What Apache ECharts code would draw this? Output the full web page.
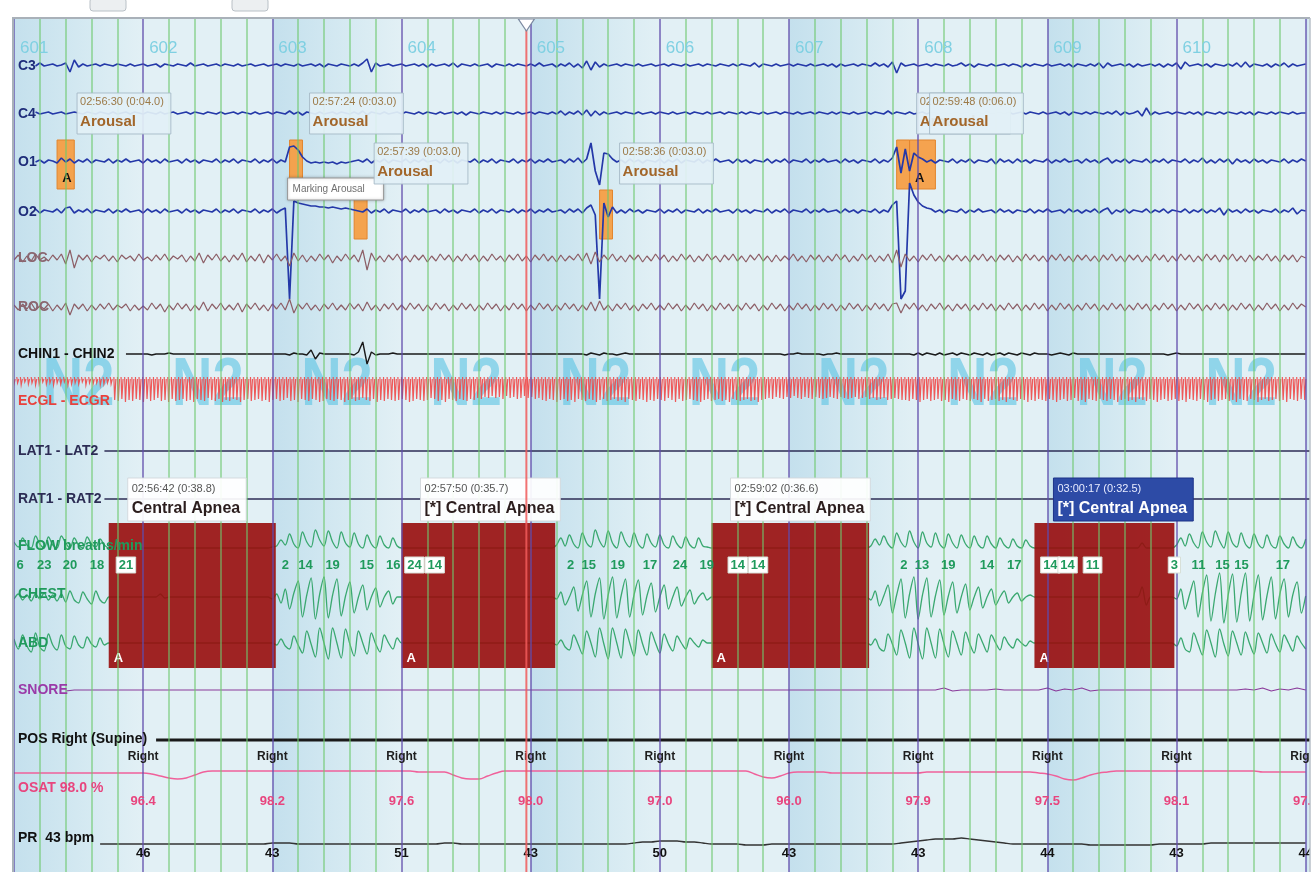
<!DOCTYPE html>
<html>
<head>
<meta charset="utf-8">
<title>PSG epochs 601-610</title>
<script src="https://cdn.jsdelivr.net/npm/echarts@6.0.0/dist/echarts.min.js"></script>
<style>
html,body{margin:0;padding:0;background:#ffffff;}
#chart{width:1316px;height:872px;}
</style>
</head>
<body>
<div id="chart"></div>
<script>
// ======================= DATA =======================
const recordStart = '02:56:20';
const cursorClock = '02:58:19';
const epochNumbers = ['601','602','603','604','605','606','607','608','609','610'];
const sleepStages = ['N2','N2','N2','N2','N2','N2','N2','N2','N2','N2'];
const channelLabels = ['C3','C4','O1','O2','LOC','ROC','CHIN1 - CHIN2','ECGL - ECGR','LAT1 - LAT2','RAT1 - RAT2',
  'FLOW breaths/min','CHEST','ABD','SNORE','POS Right (Supine)','OSAT 98.0 %','PR  43 bpm'];

const arousalStarts = ['02:56:30','02:57:24','02:57:39','02:58:36','02:59:45','02:59:48'];
const arousalDurations = [4.0, 3.0, 3.0, 3.0, 3.0, 6.0];
const arousalChannels = ['O1','O1','O2','O2','O1','O1'];
const markingArousal = 1;

const apneaStarts = ['02:56:42','02:57:50','02:59:02','03:00:17'];
const apneaDurations = [38.8, 35.7, 36.6, 32.5];
const apneaTypes = ['Central Apnea','[*] Central Apnea','[*] Central Apnea','[*] Central Apnea'];
const selectedApnea = 3;

const breathTimes = [1.4,7.0,13.0,19.3,26.0,63.0,67.7,74.0,81.9,88.1,93.0,97.7,129.3,133.5,140.2,147.7,154.7,160.9,
  168.1,172.8,206.7,210.9,217.0,226.0,232.3,240.7,244.7,250.5,269.5,275.1,280.7,285.1,294.7];
const breathRates = [6,23,20,18,21,2,14,19,15,16,24,14,2,15,19,17,24,19,14,14,2,13,19,14,17,14,14,11,3,11,15,15,17];

const positionLabels = ['Right','Right','Right','Right','Right','Right','Right','Right','Right','Right'];
const osatValues = [96.4,98.2,97.6,98.0,97.0,96.0,97.9,97.5,98.1,97.4];
const prValues = [46,43,51,43,50,43,43,44,43,44];

// traces, 1 sample per second (display amplitude)
const c3Wave = [0,-1,1,0,-1,1,-2,1,0,-1, 1,0,-2,7,-5,2,-1,1,0,-1, 1,-1,0,1,-1,0,1,-1,1,0, -1,1,0,-1,2,-1,0,1,-1,0,
 1,-2,1,0,-1,1,0,-1,1,-1, 0,1,-1,1,0,-1,1,0,-1,1, 0,-1,1,-1,0,1,-1,1,0,-1, 1,-1,2,-1,0,1,-1,0,1,-1,
 1,-2,-6,7,-2,1,0,-1,1,0, -1,1,0,-1,1,-1,2,-1,1,0, -1,1,-2,2,-1,0,1,-1,1,0, -1,2,-1,0,1,-1,1,-1,0,1,
 -1,1,-2,1,0,-1,2,-1,1,-2, 2,-1,3,-4,5,-3,2,-1,1,0, -1,1,-1,0,1,-1,1,0,-1,1, 0,-1,1,-1,0,1,-1,1,0,-1,
 1,-1,0,1,-1,0,1,-1,1,-1, 0,1,-2,2,-1,0,1,-1,1,0, -1,1,-1,0,1,-1,1,0,-1,1, -1,2,-1,1,0,-1,1,-1,0,1,
 -2,1,-1,2,-3,8,-2,1,0,-1, 1,0,-1,1,-1,0,1,-1,1,0, -2,1,-1,2,-1,0,1,-1,1,0, -1,1,-1,0,2,-1,1,-1,0,1,
 -1,1,0,-1,1,-1,2,-1,0,1, -1,1,-2,3,-2,1,0,-1,1,-1, 2,-1,1,0,-1,1,-1,2,-1,1, -2,4,-3,1,0,-1,1,-1,2,-1,
 0,1,-1,1,-2,2,-3,2,-1,0, 1,-1,2,-1,1,-2,2,-1,1,0, -1];
const c4Wave = [0,0,-1,1,0,-1,1,0,-1,1, 0,-1,1,0,-1,0,1,-1,0,1, -1,0,1,-1,1,0,-1,1,-1,0, 1,-1,0,1,-1,1,0,-1,1,0,
 -1,1,-1,0,1,-1,0,1,-1,1, 0,-1,1,-1,0,1,-1,1,0,-1, 1,-1,0,1,-2,1,-1,2,-1,0, 1,-1,1,0,-1,1,-1,0,1,-1,
 1,-2,2,-1,0,1,-1,1,0,-1, 1,-1,0,1,-1,1,-1,0,1,-1, 1,0,-1,1,-1,2,-1,0,1,-1, 0,1,-1,1,-1,0,1,-1,1,0,
 -1,1,-1,0,1,-1,1,-2,2,-1, 1,-2,2,-3,3,-2,2,-1,1,0, -1,1,-1,0,1,-1,1,0,-1,1, -1,0,1,-1,1,0,-1,1,-1,0,
 1,-1,1,0,-1,1,-1,0,1,-1, 1,-1,0,1,-1,1,0,-1,1,-1, 0,1,-1,1,0,-1,1,-1,0,1, -1,1,-1,0,1,-1,1,0,-1,1,
 -1,0,1,-2,1,-1,0,1,-1,1, 0,-1,1,-1,0,1,-1,1,0,-1, 1,-1,0,1,-1,1,-2,1,0,-1, 1,-1,1,0,-1,1,-1,0,1,-1,
 1,0,-1,1,-1,2,-1,0,1,-1, 1,-1,0,1,-1,1,-2,2,-1,1, 0,-2,3,-5,2,-1,1,0,-1,1, -1,0,1,-1,1,-1,2,-1,0,1,
 -1,1,-1,0,1,-1,1,-1,2,-1, 0,1,-1,1,-1,0,1,-1,1,0, 0];
const o1Wave = [1,-1,0,2,-2,1,-1,2,-1,0, 2,-3,1,-2,2,-1,1,-2,2,-1, 0,1,-2,2,-1,1,-2,1,0,-1, 2,-2,1,-1,2,-2,1,0,-1,2,
 -2,1,-1,2,-1,0,1,-2,2,-1, 1,-2,2,-1,0,1,-2,2,-1,1, -2,2,-1,1,-14,-15,-11,-4,0,2, 1,2,1,2,1,3,1,2,1,0,
 -1,1,-2,2,-1,1,-2,2,-1,0, 1,-2,2,-1,1,-2,1,0,-1,2, -2,1,-1,2,-1,0,1,-2,2,-1, 1,-2,2,-1,0,1,-2,2,-1,1,
 -2,2,-1,1,-2,1,0,-1,2,-2, 1,-3,2,-2,-18,10,24,-8,-7,-2, 1,-1,2,-2,1,-1,2,-1,0,1, -2,2,-1,1,-2,2,-1,0,1,-2,
 2,-1,1,-2,1,0,-1,2,-2,1, -1,2,-1,0,1,-2,2,-1,1,-2, 2,-1,0,1,-2,2,-1,1,-2,1, 0,-1,2,-2,1,-1,2,-1,0,1,
 -2,2,-1,1,-3,-14,12,-12,10,-8, -4,-2,1,-1,2,-1,0,1,-2,2, -1,1,-2,2,-1,0,1,-2,3,-2, 1,-1,2,-2,1,-1,2,-1,0,1,
 -2,2,-1,1,-2,1,0,-1,2,-2, 1,-1,2,-1,-3,2,-1,1,-2,2, -1,0,1,-2,2,-1,1,-2,2,-1, 0,1,-2,2,-1,1,-3,2,-1,2,
 -2,1,-2,3,-2,1,-1,2,-2,1, -1,2,-1,0,1,-2,2,-1,1,-2, 0];
const o2Wave = [1,-2,2,-1,1,-2,2,-1,0,1, -2,2,-3,-4,2,-1,1,-2,2,-1, 0,1,-2,2,-1,1,-2,1,0,-1, 2,-2,1,-1,2,-2,1,0,-1,2,
 -2,1,-1,2,-1,0,1,-2,2,-1, 1,-2,2,-1,0,1,-2,2,-1,1, -2,2,-1,-3,88,-10,-8,-7,-6,-5, -5,-4,-4,-3,-4,-3,-2,-3,-2,-1,
 0,1,-2,2,-1,1,-2,2,-1,0, 1,-2,2,-1,1,-2,1,0,-1,2, -2,1,-1,2,-1,0,1,-2,2,-1, 1,-2,2,-1,0,1,-2,2,-1,1,
 -2,2,-1,1,-2,1,0,-1,2,-2, 1,-2,2,-3,-6,4,88,-8,6,-4, 2,-1,2,-2,1,-1,2,-1,0,1, -2,2,-1,1,-2,2,-1,0,1,-2,
 2,-1,1,-2,1,0,-1,2,-2,1, -1,2,-1,0,1,-2,2,-1,1,-2, 2,-1,0,1,-2,2,-1,1,-2,1, 0,-1,2,-2,1,-1,2,-1,0,1,
 -2,2,-1,1,-6,-10,88,80,-28,-16, -9,-5,-3,-2,1,-1,2,-1,0,1, -2,2,-1,1,-2,1,0,-1,2,-2, 1,-1,2,-1,0,1,-2,2,-1,1,
 -2,1,0,-1,2,-2,1,-1,2,-1, 1,-2,2,-1,-3,3,-1,1,-2,2, -1,0,1,-2,2,-1,1,-2,2,-1, 0,1,-2,2,-1,1,-2,2,-1,1,
 -3,4,-2,1,-1,2,-2,1,-1,2, -1,0,1,-2,2,-1,1,-3,3,-1, 0];
const locWave = [2,-3,4,-2,3,-4,2,-1,3,-3, 2,-4,6,-8,10,-3,2,-3,4,-2, 1,-3,3,-2,4,-3,1,-2,3,-4, 2,-1,3,-3,2,-4,3,-2,1,-3,
 4,-2,3,-5,5,-3,2,-4,3,-2, 4,-3,2,-5,4,-2,3,-4,5,-3, 2,-4,3,-2,8,-5,3,-3,4,-2, 3,-4,2,-3,5,-2,3,-4,2,-3,
 4,-8,12,-5,3,-2,4,-3,2,-4, 3,-2,4,-3,2,-3,4,-2,3,-4, 2,-3,4,-2,3,-4,2,-3,4,-2, 3,-4,2,-2,4,-3,2,-4,3,-2,
 4,-3,2,-4,3,-2,4,-3,3,-2, 2,-4,3,-5,6,-6,4,-3,2,-4, 3,-2,4,-3,2,-3,4,-2,3,-4, 2,-3,4,-2,3,-4,2,-3,4,-2,
 3,-4,2,-2,4,-3,2,-4,3,-2, 4,-3,2,-4,3,-2,4,-3,3,-2, 2,-4,3,-2,4,-3,2,-3,4,-2, 3,-4,2,-3,4,-2,3,-4,2,-3,
 4,-2,3,-4,5,-8,9,-4,3,-2, 4,-3,2,-4,3,-2,4,-3,2,-3, 3,-2,4,-3,2,-4,3,-2,4,-3, 2,-3,4,-2,3,-4,2,-3,3,-2,
 4,-3,2,-4,3,-2,4,-3,2,-3, 3,-2,4,-3,2,-4,3,-2,4,-3, 2,-3,4,-2,3,-4,2,-3,4,-2, 3,-4,2,-3,4,-2,3,-4,2,-3,
 4,-3,2,-4,3,-2,4,-3,3,-2, 2,-4,3,-2,4,-3,2,-3,4,-2, 0];
const rocWave = [-2,3,-3,2,-4,3,-1,2,-3,4, -2,3,-4,8,-3,2,-3,4,-2,3, -3,2,-4,3,-2,1,-3,4,-2,3, -1,3,-4,2,-3,5,-2,3,-4,2,
 -3,4,-2,3,-5,4,-3,2,-4,3, -2,3,-4,5,-3,2,-4,3,-2,4, -3,2,-4,3,-8,6,-3,2,-4,3, -2,4,-3,2,-4,3,-2,3,-4,2,
 -3,4,-5,3,-2,4,-3,2,-4,3, -2,3,-4,2,-3,4,-2,3,-4,2, -3,4,-2,3,-4,2,-3,4,-2,3, -4,2,-3,4,-2,3,-4,2,-3,4,
 -2,3,-4,2,-3,4,-2,3,-4,2, -3,4,-2,3,-5,4,-6,3,-2,4, -3,2,-4,3,-2,4,-3,2,-4,3, -2,3,-4,2,-3,4,-2,3,-4,2,
 -3,4,-2,3,-4,2,-3,4,-2,3, -4,2,-3,4,-2,3,-4,2,-3,4, -2,3,-4,2,-3,4,-2,3,-4,2, -3,4,-2,3,-4,2,-3,4,-2,3,
 -4,2,-3,4,-3,-4,6,-3,2,-4, 3,-2,4,-3,2,-4,3,-2,4,-3, 2,-3,4,-2,3,-4,2,-3,4,-2, 3,-4,2,-3,4,-2,3,-4,2,-3,
 4,-2,3,-4,2,-3,4,-2,3,-4, 2,-3,4,-2,3,-4,2,-3,4,-2, 3,-4,2,-3,4,-2,3,-4,2,-3, 4,-2,3,-4,2,-3,4,-2,3,-4,
 2,-3,4,-2,3,-4,2,-3,4,-2, 3,-4,2,-3,4,-2,3,-4,2,-3, 0];
const chinWave = [0,0,0,0,0,0,0,0,0,0, 0,0,0,0,0,0,0,0,0,0, 0,0,0,0,0,0,0,0,0,0, 0,0,1,0,0,0,-1,0,0,0,
 0,0,0,0,0,0,0,0,0,0, 0,0,0,0,0,0,0,0,0,0, 0,0,0,0,1,-1,0,0,1,-4, 5,-1,0,0,0,0,0,0,0,1,
 -2,-12,10,-2,1,0,0,0,-1,0, 0,0,0,0,0,0,0,0,0,0, 0,0,0,0,0,0,0,0,0,0, 0,0,0,0,0,0,0,0,0,0,
 0,0,0,0,0,0,0,0,0,0, 0,0,0,1,-1,0,1,-1,0,0, 1,0,-1,0,0,0,0,0,0,0, 0,0,0,0,0,0,0,0,0,0,
 0,0,0,0,0,0,0,0,0,0, 0,0,0,0,0,0,0,0,0,1, 0,0,-1,0,0,0,0,0,1,0, 0,-1,0,0,0,0,0,0,0,0,
 0,0,0,0,0,0,0,0,0,1, -1,1,-1,0,1,-1,1,0,-1,1, -1,0,1,-1,0,1,-1,1,0,-1, 1,-1,0,1,-1,0,1,-1,0,0,
 0,1,0,-1,0,1,-1,0,0,0, 0,0,0,0,0,0,0,0,0,0, 0,0,0,0,0,0,0,0,1,0, -1,0,0,0,0,0,0,0,0,0,
 0,0,0,0,0,0,0,0,0,0, 0,0,0,0,0,0,0,0,0,0, 0];
// ECG R-wave heights, one per beat
const ecgPeaks = [6,5,7,4,6,5,7,6,4,6,5,7,5,6,4,7,6,5,6,4,7,5,6,5,7,6,5,6,
 22,23,21,24,22,23,21,22,24,21,23,22,20,23,22,24,21,23,22,21,
 23,22,24,21,22,23,20,22,23,21,24,22,23,21,22,24,22,21,23,22,
 21,23,22,24,22,21,23,22,20,23,22,24,21,22,23,21,22,24,23,21,
 22,23,21,22,24,22,21,23,22,20,22,23,21,24,22,23,21,22,23,22,
 21,22,24,23,21,22,23,22,20,21,23,22,24,21,22,23,21,22,23,21,
 22,20,21,19,20,18,20,19,21,18,20,19,21,20,18,20,19,21,20,22,
 23,21,22,24,22,21,23,22,24,21,22,23,21,22,24,22,21,23,22,21,
 23,22,24,21,22,23,21,22,24,22,23,21,22,23,20,22,24,21,23,22,
 21,22,23,24,22,21,23,22,21,23,22,24,21,22,23,22,21,23,22,24,
 22,21,20,21,19,20,21,19,20,18,20,21,19,20,21,19,20,21,20,19,
 20,21,19,20,21,20,19,21,20,19,21,20,22,21,20,22,21,20,21,22,
 22,23,21,22,24,22,21,23,22,21,23,22,24,21,22,23,21,22,23,21,
 22,24,21,23,22,21,23,22,24,21,22,23,21,22,24,22,23,21,22,23,
 21,22,24,22,21,23,22,20,23,22,24,21,22,23,21,22,23,21,22,24,
 22,21,23,22,24,21,22,23,21,22,24,22,21,23,22,21,23,22,24,21,
 22,23,21,22,24,22,21,23,22,21,23,22,
 24,21,22,23,21,22,24,22,21,23,22,21,23,22,24,21,22,23,21,22];
const flowWave = [-6,-1,-10,-3,0,-12,-4,0,-11,-3, 0,-12,-5,0,-10,-3,0,-11,-4,-1, -9,-3,
 0,0,0,0,0,0,0,0,0,0, 0,0,0,0,0,0,0,0,0,0, 0,0,0,0,0,0,0,0,0,0, 0,0,0,0,0,0,0,0,-1,
 -2,-8,-3,-14,-4,0,-16,-6,-1,-18,-8,-2,-17,-6,0,-16,-5,-1,-15,-4,0,-13,-4,0,-12,-3,0,-10,-2,
 0,0,0,0,0,0,0,0,0,0, 0,0,0,0,0,0,0,0,0,0, 0,0,0,0,0,0,0,0,0,0, 0,0,0,0,0,0,
 -3,-10,-2,-13,-4,0,-15,-5,-1,-18,-7,-1,-17,-5,0,-16,-6,-1,-15,-4,0,-14,-5,-1,-13,-3,0,-12,-4,0,-11,-3,0,-10,-2,-1,
 0,0,0,0,0,0,0,0,0,0, 0,0,0,0,0,0,0,0,0,0, 0,0,0,0,0,0,0,0,0,0, 0,0,0,0,0,0,0,
 -2,-9,-3,-12,-4,0,-15,-6,-1,-17,-6,0,-16,-5,-1,-15,-4,0,-14,-5,0,-13,-4,0,-12,-3,0,-12,-4,0,-10,-3,0,-9,-2,0,-8,-2,
 0,0,0,0,0,0,0,0,0,0, 0,0,0,0,0,0,0,0,0,0, 0,0,0,0,0,-5,0,0,0,0, 0,0,0,
 -3,-10,-2,-14,-5,0,-16,-6,-1,-17,-7,0,-16,-5,-1,-15,-4,0,-14,-4,0,-13,-3,0,-12,-4,0,-11,-3,0,-9];
const chestWave = [2,-3,3,-2,4,-3,2,-4,3,-2, 4,-3,5,-6,3,6,-5,2,7,-6, 3,6,
 0,0,0,0,0,0,0,0,0,0, 0,0,-3,1,0,0,0,0,0,0, 0,0,0,0,0,0,0,0,0,0, 0,0,0,0,0,0,0,0,2,
 -3,6,-8,12,-4,-16,20,-2,-19,22,-3,-20,21,-2,-18,19,-1,-15,16,0,-12,13,0,-9,10,0,-6,7,0,
 0,0,0,0,0,0,0,0,0,0, 0,0,0,0,0,0,0,0,0,0, 0,0,0,0,0,0,0,0,0,0, 0,0,0,0,0,0,
 2,-5,8,0,-10,14,-2,-16,20,-3,-19,22,-2,-20,21,-1,-18,20,-2,-17,18,-1,-14,15,0,-12,12,0,-10,9,0,-7,7,0,-4,3,
 0,0,0,0,0,0,0,0,0,0, 0,0,0,0,0,0,0,0,0,0, 0,0,0,0,0,0,0,0,0,0, 0,0,0,0,0,0,0,
 3,-6,9,-1,-12,16,-2,-18,21,-3,-20,22,-2,-19,20,-1,-17,18,-1,-15,16,0,-13,13,0,-10,11,0,-8,8,0,-6,6,0,-4,4,0,-2,
 0,0,0,0,0,0,0,0,0,0, 0,0,0,0,0,0,0,0,0,0, 0,0,0,0,0,-10,8,0,0,0, 0,0,0,
 2,-8,12,-2,-16,20,-4,-22,24,-3,-24,26,-2,-23,25,-3,-24,24,-2,-22,23,-1,-20,22,-3,-18,20,-2,-15,16,-1];
const abdWave = [-4,6,-8,3,9,-10,4,8,-9,2, 7,-8,3,6,-7,2,5,-6,1,4, -5,2,
 0,0,0,0,0,0,0,0,0,0, 0,0,0,0,0,0,0,0,0,0, 0,0,0,0,0,0,0,0,0,0, 0,0,0,0,0,0,0,0,0,
 2,-4,3,6,-7,2,10,-12,1,14,-15,0,16,-15,0,15,-14,1,13,-12,0,11,-10,1,9,-8,0,6,-5,
 0,0,0,0,0,0,0,0,0,0, 0,0,0,0,0,0,0,0,0,0, 0,0,0,0,0,0,0,0,0,0, 0,0,0,0,0,0,
 2,-3,4,7,-8,1,11,-12,0,14,-15,1,16,-15,0,15,-14,0,13,-13,1,12,-11,0,10,-9,1,8,-7,0,6,-5,0,4,-3,0,
 0,0,0,0,0,0,0,0,0,0, 0,0,0,0,0,0,0,0,0,0, 0,0,0,0,0,0,0,0,0,0, 0,0,0,0,0,0,0,
 2,-4,5,8,-9,1,12,-13,0,15,-15,1,16,-15,0,15,-14,1,14,-12,0,12,-11,1,10,-9,0,9,-8,0,7,-6,1,5,-4,0,3,-2,
 0,0,0,0,0,0,0,0,0,0, 0,0,0,0,0,0,0,0,0,0, 0,0,0,0,0,0,0,0,0,0, 0,0,0,
 3,-5,6,9,-10,1,12,-13,0,14,-14,1,13,-12,0,12,-11,1,11,-10,0,10,-9,1,9,-8,0,8,-7,0,6];
// slow channels, 1 sample every 2 s
const snoreWave = [0,0,0,0,0,0,1,0,0,0, 0,0,0,0,0,0,0,0,0,0, 0,0,0,0,0,0,0,0,0,0, 0,0,0,0,0,0,0,0,0,0,
 0,0,0,0,0,0,0,0,0,0, 0,0,0,0,0,0,0,0,0,0, 0,0,0,0,0,0,0,0,0,0, 0,0,0,0,0,0,0,0,0,0,
 0,0,0,0,0,0,0,0,0,0, 0,0,0,0,0,0,0,0,0,0, 0,0,0,0,0,0,0,0,-2,1, 0,0,0,0,-1,0,0,0,0,0,
 -2,1,-1,0,-2,1,0,0,0,0, 0,0,0,0,0,0,0,0,0,0, 0,0,0,-1,0,-2,1,-1,0,-2, 0];
const osatWave = [1,1,1,1,1,1,1,1,1,1, 1,1,1,1,1,1,2, 4,6,7,6,3,
 0,-1,-1,-1,-1,-1,-1,-1,-1,-1,-1,-1,-1,-1,-1,-1,-1,-1,-1,-1,-1,-1,-1,-1,-1,0,0,0,0,
 3,6,7,7,4,1,
 -1,-1,-1,-1,-1,-1,-1,-1,-1,-1,-1,-1,-1,-1,-1,-1,-1,-1,-1,-1,-1,-1,-1,-1,-1,-1,-1,-1,-1,
 2,5,6,4,1,
 0,0,0,0,1,1,1,1,1,1,1,1,1,1,1,0,0,0,0,0,0,0,0,0,0,0,0,0,1,2,
 4,7,8,6,3,1,
 0,-1,-1,-1,-1,-1,-1,-1,-1,-1,-1,-1,-1,-1,-1,-1,-1,-1,0,0,0,0,0,0];
const prWave = [0,0,0,0,0,0,0,0,0,0,
 0,0,0,0,0,0,0,0,0,0, 0,0,0,0,0,0,0,0,0,0, -1,-1,-1,0,0,0,0,0,0,0, 0,0,0,0,0,0,0,0,0,0, -1,-1,0,0,0,0,0,0,0,0, 0,0,0,0,0,
 0,0,0,0,0,0,0,-1,-2,-2,-3,-3,-3,-2,-2,
 -1,0,0,0,0,1,1,1,0,0,0,0,0,0,0,0,0,0,0,0,
 0,0,0,-1,-2,-3,-4,-5,-5,-5,-6,-5,-4,-3,-2,-1,0,0,0,0,
 0,0,0,0,0,1,1,1,1,1,1,1,1,0,0,0,0,0,0,-1,-1,-1,-1,-1,-1,-1,-1,-1,-1,-1,-1];

// ======================= LAYOUT / STYLE =======================
const X_MAX = 301, EPOCH = 30, SUB = 6, ECG_STEP = 0.835;
const ROW = {C3:65, C4:113, O1:161, O2:211, LOC:258, ROC:307, CHIN:354, ECG:378, LAT:451, RAT:499,
  FLOW:548, CHEST:597, ABD:643, SNORE:690, POS:740, OSAT:772, PR:844};
const LABEL_Y = [66,114,162,212,258,307,354,401,451,499,546,594,643,690,739,788,838];
const LABEL_COLOR = ['#1f2d7a','#1f2d7a','#1f2d7a','#1f2d7a','#8a6670','#8a6670','#111111','#e8413c','#2c2c54','#2c2c54',
  '#1f9a5c','#1f9a5c','#1f9a5c','#9a3aa8','#111111','#e8457e','#111111'];
const FONT = '"Liberation Sans", Arial, sans-serif';

const toSec = c => { const p = c.split(':').map(Number); return p[0]*3600 + p[1]*60 + p[2]; };
const T0 = toSec(recordStart);
const rel = c => toSec(c) - T0;
const arousalSec = arousalStarts.map(rel);
const apneaSec = apneaStarts.map(rel);
const cursorSec = rel(cursorClock);
const durText = d => '(0:' + d.toFixed(1).padStart(4, '0') + ')';
const inApnea = t => apneaSec.some((s, i) => t >= s && t <= s + apneaDurations[i]);

const mctx = document.createElement('canvas').getContext('2d');
const textW = (t, f) => { mctx.font = f; return mctx.measureText(t).width; };

function txt(x, y, text, fill, font, align, valign, extra) {
  return Object.assign({type: 'text', x: x, y: y, style: {text: text, fill: fill, font: font,
    align: align || 'left', verticalAlign: valign || 'middle', textAlign: align || 'left', textVerticalAlign: valign || 'middle'}}, extra || {});
}

function trace(wave, dt, base, start, color, width, smooth) {
  const data = [];
  wave.forEach((v, i) => { const t = i * dt; if (t >= start && t <= X_MAX) data.push([t, base + v]); });
  return {type: 'line', data: data, symbol: 'none', showSymbol: false, silent: true, z: 2,
    smooth: smooth || false, lineStyle: {color: color, width: width}, animation: false};
}
function flat(base, start, color, width) {
  return {type: 'line', data: [[start, base], [X_MAX, base]], symbol: 'none', silent: true, z: 2,
    lineStyle: {color: color, width: width}, animation: false};
}

const series = [];

// sleep stage watermark
series.push({type: 'custom', z: 1, silent: true, clip: true,
  data: sleepStages.map((s, i) => [i * EPOCH + EPOCH / 2]),
  renderItem: (params, api) => {
    const p = api.coord([api.value(0), 386]);
    return txt(p[0], p[1], sleepStages[params.dataIndex], 'rgba(90,195,226,0.6)', 'bold 56px ' + FONT, 'center', 'middle', {scaleY: 1.22});
  }});

// epoch numbers
series.push({type: 'custom', z: 3, silent: true, clip: true,
  data: epochNumbers.map((s, i) => [i * EPOCH]),
  renderItem: (params, api) => {
    const p = api.coord([api.value(0), 48]);
    return txt(p[0] + 6, p[1], epochNumbers[params.dataIndex], '#7fd0e2', '17px ' + FONT);
  }});

// arousal boxes (under traces)
series.push({type: 'custom', z: 1.5, silent: true,
  data: arousalSec.map((s, i) => [s, s + arousalDurations[i]]),
  renderItem: (params, api) => {
    const i = params.dataIndex, b = ROW[arousalChannels[i]];
    const p0 = api.coord([api.value(0), b - 21]), p1 = api.coord([api.value(1), b + 28]);
    const ch = [{type: 'rect', shape: {x: p0[0], y: p0[1], width: p1[0] - p0[0], height: p1[1] - p0[1]},
      style: {fill: 'rgba(246,156,64,0.92)', stroke: '#e2852e', lineWidth: 1}}];
    if (p1[0] - p0[0] > 15) ch.push(txt(p0[0] + 10, b + 17, 'A', '#111', 'bold 13px ' + FONT, 'center'));
    return {type: 'group', children: ch};
  }});

// traces
series.push(trace(c3Wave, 1, ROW.C3, 5, '#2438a8', 1.6));
series.push(trace(c4Wave, 1, ROW.C4, 5, '#2438a8', 1.6));
series.push(trace(o1Wave, 1, ROW.O1, 5, '#2438a8', 1.7));
series.push(trace(o2Wave, 1, ROW.O2, 5, '#2438a8', 1.7));
series.push(trace(locWave, 1, ROW.LOC, 0, '#8c5e66', 1.2));
series.push(trace(rocWave, 1, ROW.ROC, 0, '#8c5e66', 1.2));
series.push(trace(chinWave, 1, ROW.CHIN, 26, '#1a1a1a', 1.4));
series.push(flat(ROW.LAT, 21, '#2c2c54', 1.5));
series.push(flat(ROW.RAT, 21, '#2c2c54', 1.5));
series.push(trace(flowWave, 1, ROW.FLOW, 0, '#3aa870', 1.3, 0.35));
series.push(trace(chestWave, 1, ROW.CHEST, 0, '#3aa870', 1.3, 0.3));
series.push(trace(abdWave, 1, ROW.ABD, 0, '#3aa870', 1.3, 0.35));
series.push(trace(snoreWave, 2, ROW.SNORE, 12, '#8a3a9a', 1.2));
series.push(flat(ROW.POS, 33, '#1a1a1a', 2.8));
series.push(trace(osatWave, 2, ROW.OSAT, 0, '#f0609a', 1.4, 0.4));
series.push(trace(prWave, 2, ROW.PR, 20, '#333333', 1.4, 0.3));

// ECG beats
series.push({type: 'custom', z: 2, silent: true, clip: true,
  data: ecgPeaks.map((h, i) => [i * ECG_STEP, h]),
  renderItem: (params, api) => {
    const p0 = api.coord([api.value(0), ROW.ECG - 1]);
    const p1 = api.coord([api.value(0), ROW.ECG + api.value(1)]);
    return {type: 'polyline', shape: {points: [[p0[0] - 0.8, p0[1]], [p1[0], p1[1]], [p0[0] + 1.2, p0[1] + 2]]},
      style: {stroke: '#f04848', lineWidth: 1.2, fill: 'none', opacity: 0.9}};
  }});

// apnea boxes
series.push({type: 'custom', z: 2.5, silent: true,
  data: apneaSec.map((s, i) => [s, s + apneaDurations[i]]),
  renderItem: (params, api) => {
    const p0 = api.coord([api.value(0), ROW.FLOW - 25]), p1 = api.coord([api.value(1), ROW.ABD + 25]);
    return {type: 'group', children: [
      {type: 'rect', shape: {x: p0[0], y: p0[1], width: p1[0] - p0[0], height: p1[1] - p0[1]},
        style: {fill: 'rgba(152,12,12,0.9)'}},
      txt(p0[0] + 5, p1[1] - 10, 'A', '#ffffff', 'bold 13px ' + FONT)
    ]};
  }});

// arousal labels
series.push({type: 'custom', z: 3, silent: true,
  data: arousalSec.map((s) => [s]),
  renderItem: (params, api) => {
    const i = params.dataIndex, b = ROW[arousalChannels[i]];
    const p = api.coord([api.value(0), b - 68]);
    const t1 = arousalStarts[i] + ' ' + durText(arousalDurations[i]);
    const w = Math.max(textW(t1, '11px ' + FONT), 52) + 10;
    const ch = [
      {type: 'rect', shape: {x: p[0] + 20, y: p[1], width: w, height: 41},
        style: {fill: 'rgba(226,240,246,0.93)', stroke: 'rgba(165,185,198,0.9)', lineWidth: 1}},
      txt(p[0] + 23, p[1] + 9, t1, '#9c7a48', '11px ' + FONT),
      txt(p[0] + 23, p[1] + 29, 'Arousal', '#a2662a', 'bold 15px ' + FONT)
    ];
    if (i === markingArousal) {
      const q = api.coord([api.value(0), b + 17]);
      ch.push({type: 'rect', shape: {x: q[0] - 2, y: q[1], width: 96, height: 22},
        style: {fill: '#ffffff', stroke: '#9a9a9a', lineWidth: 1, shadowBlur: 3, shadowColor: 'rgba(0,0,0,0.25)'}});
      ch.push(txt(q[0] + 3, q[1] + 11, 'Marking Arousal', '#707070', '10px ' + FONT));
    }
    return {type: 'group', children: ch};
  }});

// apnea labels
series.push({type: 'custom', z: 3, silent: true,
  data: apneaSec.map((s) => [s]),
  renderItem: (params, api) => {
    const i = params.dataIndex;
    const p = api.coord([api.value(0), ROW.RAT - 21]);
    const sel = i === selectedApnea;
    const t1 = apneaStarts[i] + ' ' + durText(apneaDurations[i]);
    const w = Math.max(textW(t1, '11px ' + FONT), textW(apneaTypes[i], 'bold 16px ' + FONT)) + 10;
    return {type: 'group', children: [
      {type: 'rect', shape: {x: p[0] + 19, y: p[1], width: w, height: 43},
        style: {fill: sel ? '#2d4ba6' : 'rgba(255,255,255,0.93)', stroke: sel ? '#1c3288' : 'rgba(210,215,220,0.9)', lineWidth: 1}},
      txt(p[0] + 23, p[1] + 11, t1, sel ? '#e8ecff' : '#555555', '11px ' + FONT),
      txt(p[0] + 23, p[1] + 31, apneaTypes[i], sel ? '#ffffff' : '#2b1d1d', 'bold 16px ' + FONT)
    ]};
  }});

// breath rates
series.push({type: 'custom', z: 3, silent: true, clip: true,
  data: breathTimes.map((t, i) => [t, breathRates[i]]),
  renderItem: (params, api) => {
    const t = api.value(0), s = String(api.value(1));
    const p = api.coord([t, ROW.FLOW + 17]);
    const f = 'bold 13px ' + FONT;
    const ch = [];
    if (inApnea(t)) {
      const w = textW(s, f) + 5;
      ch.push({type: 'rect', shape: {x: p[0] - w / 2, y: p[1] - 8, width: w, height: 16},
        style: {fill: '#ffffff', stroke: '#d8e0d8', lineWidth: 1}});
    }
    ch.push(txt(p[0], p[1], s, '#1f9a5c', f, 'center'));
    return {type: 'group', children: ch};
  }});

// bottom per-epoch values (clipped at the right border)
series.push({type: 'custom', z: 3, silent: true, clip: true,
  data: positionLabels.map((s, i) => [(i + 1) * EPOCH]),
  renderItem: (params, api) => {
    const i = params.dataIndex, x = api.coord([api.value(0), 0])[0];
    return {type: 'group', children: [
      txt(x, api.coord([0, 757])[1], positionLabels[i], '#1e1e1e', 'bold 12px ' + FONT, 'center'),
      txt(x, api.coord([0, 801])[1], osatValues[i].toFixed(1), '#e8457e', 'bold 13px ' + FONT, 'center'),
      txt(x, api.coord([0, 853])[1], String(prValues[i]), '#111111', 'bold 13px ' + FONT, 'center')
    ]};
  }});

// channel labels
series.push({type: 'custom', z: 3, silent: true, clip: false,
  data: channelLabels.map((s, i) => [0, i]),
  renderItem: (params, api) => {
    const i = params.dataIndex;
    const p = api.coord([0, LABEL_Y[i]]);
    return txt(p[0] + 4, p[1], channelLabels[i], LABEL_COLOR[i], 'bold 14px ' + FONT);
  }});

// cursor
series.push({type: 'custom', z: 5, silent: true, clip: false,
  data: [[cursorSec]],
  renderItem: (params, api) => {
    const top = api.coord([api.value(0), 18]), bot = api.coord([api.value(0), 872]);
    return {type: 'group', children: [
      {type: 'line', shape: {x1: top[0], y1: top[1], x2: bot[0], y2: bot[1]}, style: {stroke: 'rgba(240,90,90,0.85)', lineWidth: 2}},
      {type: 'polygon', shape: {points: [[top[0] - 8, top[1] + 1], [top[0] + 8, top[1] + 1], [top[0], top[1] + 13]]},
        style: {fill: '#ffffff', stroke: '#7a88a0', lineWidth: 1.2}}
    ]};
  }});

const dark = new echarts.graphic.LinearGradient(0, 0, 1, 0, [
  {offset: 0, color: '#c4e0ed'}, {offset: 0.6, color: '#d6eaf2'}, {offset: 1, color: '#e2f0f5'}]);
const GREEN = 'rgba(110,200,110,0.55)', PURPLE = 'rgba(95,75,170,0.65)';

const option = {
  animation: false,
  backgroundColor: '#ffffff',
  grid: {left: 14, right: 6, top: 18, bottom: 0, containLabel: false},
  xAxis: [
    {type: 'value', min: 0, max: X_MAX, interval: SUB, z: 2.6,
      axisLine: {show: false}, axisTick: {show: false}, axisLabel: {show: false},
      splitLine: {show: true, showMinLine: true, showMaxLine: false,
        lineStyle: {color: [PURPLE, GREEN, GREEN, GREEN, GREEN], width: 2}},
      splitArea: {show: false}},
    {type: 'value', min: 0, max: X_MAX, interval: EPOCH, position: 'top', z: 0,
      axisLine: {show: false}, axisTick: {show: false}, axisLabel: {show: false},
      splitLine: {show: false},
      splitArea: {show: true, areaStyle: {color: [dark, '#e2f0f5']}}}
  ],
  yAxis: {type: 'value', min: 18, max: 872, inverse: true, show: true,
    axisLine: {show: false}, axisTick: {show: false}, axisLabel: {show: false}, splitLine: {show: false}},
  graphic: [
    {type: 'rect', shape: {x: 90, y: -2, width: 36, height: 13, r: 3}, style: {fill: '#eceff1', stroke: '#b9c0c6'}, z: 10},
    {type: 'rect', shape: {x: 232, y: -2, width: 36, height: 13, r: 3}, style: {fill: '#eceff1', stroke: '#b9c0c6'}, z: 10},
    {type: 'line', shape: {x1: 12, y1: 18, x2: 1310, y2: 18}, style: {stroke: '#a9b1b9', lineWidth: 2}, z: 10},
    {type: 'line', shape: {x1: 13, y1: 18, x2: 13, y2: 872}, style: {stroke: '#a9b1b9', lineWidth: 2}, z: 10},
    {type: 'line', shape: {x1: 1310, y1: 18, x2: 1310, y2: 872}, style: {stroke: '#b8c0c8', lineWidth: 1.5}, z: 10}
  ],
  series: series
};

const chart = echarts.init(document.getElementById('chart'), null, {renderer: 'canvas'});
chart.setOption(option);
</script>
</body>
</html>
